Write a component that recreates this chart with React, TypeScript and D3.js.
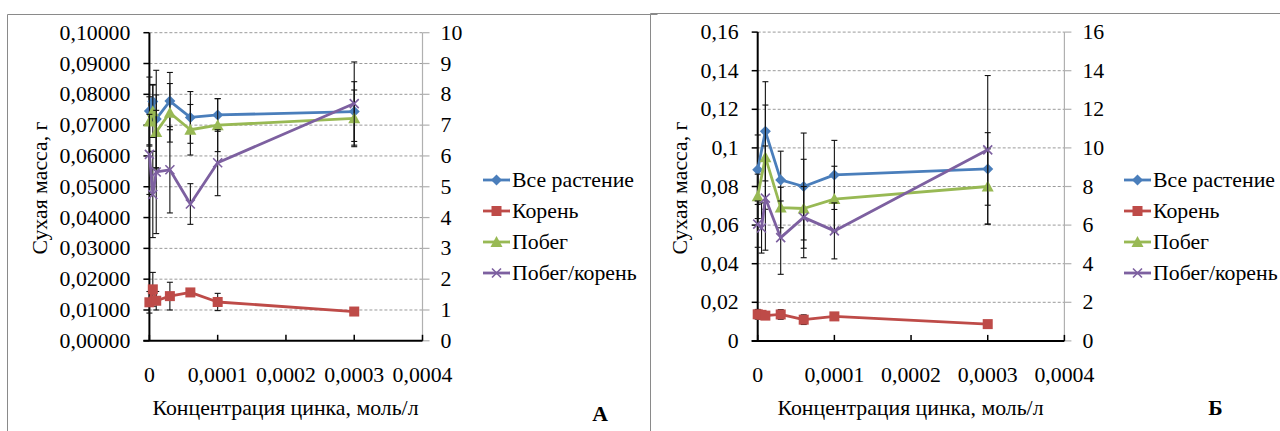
import React from 'react'
import * as d3 from 'd3'

const FONT = '"Liberation Serif", Tinos, "Times New Roman", Times, "DejaVu Serif", serif'
const FONT_SIZE = 20
const STRETCH = 1.09

const SERIES_NAMES = ['Все растение', 'Корень', 'Побег', 'Побег/корень']
const COLORS = ['#4a7ebb', '#be4b48', '#98b954', '#7d60a0']
const MARKERS = ['diamond', 'square', 'triangle', 'cross']

// zinc concentration, mol/l
const CONC = [0, 0.000005, 0.00001, 0.00003, 0.00006, 0.0001, 0.0003]
const X_TICKS = [0, 0.0001, 0.0002, 0.0003, 0.0004]

// panel A (dry mass, g; ratio on right axis)
const TOTAL_A = [0.0746, 0.0777, 0.0720, 0.0778, 0.0725, 0.0733, 0.0744]
const TOTAL_A_ERR = [0.011, 0.0055, 0.0158, 0.0093, 0.0084, 0.0053, 0.0097]
const ROOT_A = [0.0125, 0.0167, 0.0130, 0.0145, 0.0157, 0.0126, 0.0095]
const ROOT_A_ERR = [0.0035, 0.0055, 0.003, 0.0045, 0.001, 0.0028, 0.0005]
const SHOOT_A = [0.0712, 0.0745, 0.0678, 0.0740, 0.0685, 0.0700, 0.0722]
const SHOOT_A_ERR = [0.008, 0.0085, 0.012, 0.0095, 0.0082, 0.0086, 0.0092]
const RATIO_A = [6.05, 4.75, 5.48, 5.55, 4.44, 5.78, 7.7]
const RATIO_A_ERR = [1.3, 1.4, 2.0, 1.4, 0.66, 1.07, 1.35]

// panel Б
const TOTAL_B = [0.0887, null, 0.1086, 0.0834, 0.0800, 0.0860, 0.0891]
const TOTAL_B_ERR = [0.018, null, 0.0257, 0.0149, 0.0277, 0.0179, 0.0188]
const ROOT_B = [0.0138, 0.0135, 0.0131, 0.0137, 0.0110, 0.0127, 0.0087]
const ROOT_B_ERR = [0.0025, 0.002, 0.002, 0.0025, 0.0025, 0.0015, 0.0008]
const SHOOT_B = [0.0749, null, 0.0952, 0.0691, 0.0686, 0.0735, 0.0800]
const SHOOT_B_ERR = [0.0115, null, 0.027, 0.0105, 0.0255, 0.017, 0.0195]
const RATIO_B = [6.05, 5.85, 7.4, 5.35, 6.4, 5.7, 9.9]
const RATIO_B_ERR = [1.2, 1.3, 2.7, 1.9, 1.6, 1.45, 3.85]

const comma = (s: string) => s.replace('.', ',')

type Series = { values: (number | null)[], err: (number | null)[], right?: boolean }

const panelA = {
  x0: 149.4, x1: 422.5, yTop: 32.7, yBot: 340.8,
  yMax: 0.1, yStep: 0.01, yFmt: (v: number) => comma(d3.format('.5f')(v)),
  y2Max: 10, y2Step: 1,
  series: [
    { values: TOTAL_A, err: TOTAL_A_ERR },
    { values: ROOT_A, err: ROOT_A_ERR },
    { values: SHOOT_A, err: SHOOT_A_ERR },
    { values: RATIO_A, err: RATIO_A_ERR, right: true },
  ] as Series[],
  legendX: 483, legendTextX: 512,
  frameX: 7.5, frameY: 14.5,
  yTitleX: 47,
  xTitleX: 285.5,
  letter: 'А', letterX: 600, letterY: 420.5,
}

const panelB = {
  x0: 757.7, x1: 1064.4, yTop: 32.1, yBot: 340.9,
  yMax: 0.16, yStep: 0.02, yFmt: (v: number) => comma(d3.format('.2~f')(v)),
  y2Max: 16, y2Step: 2,
  series: [
    { values: TOTAL_B, err: TOTAL_B_ERR },
    { values: ROOT_B, err: ROOT_B_ERR },
    { values: SHOOT_B, err: SHOOT_B_ERR },
    { values: RATIO_B, err: RATIO_B_ERR, right: true },
  ] as Series[],
  legendX: 1124, legendTextX: 1153,
  frameX: 650.5, frameY: 13.5,
  yTitleX: 687,
  xTitleX: 910.5,
  letter: 'Б', letterX: 1215.5, letterY: 415,
}

// text stretched horizontally like the original scan
function T({ x, y, anchor = 'start', rotate = 0, bold = false, children }: any) {
  return (
    <text
      transform={`translate(${x},${y}) rotate(${rotate}) scale(${STRETCH},1)`}
      textAnchor={anchor}
      style={{ fontFamily: FONT, fontSize: FONT_SIZE, fontWeight: bold ? 700 : 400 }}
      fill="#000"
    >
      {children}
    </text>
  )
}

function Marker({ kind, x, y, color }: any) {
  if (kind === 'diamond')
    return <path d={`M${x},${y - 5.5}L${x + 5.5},${y}L${x},${y + 5.5}L${x - 5.5},${y}Z`} fill={color} />
  if (kind === 'square')
    return <rect x={x - 5} y={y - 5} width={10} height={10} fill={color} />
  if (kind === 'triangle')
    return <path d={`M${x},${y - 6}L${x + 6},${y + 5}L${x - 6},${y + 5}Z`} fill={color} />
  return (
    <path d={`M${x - 4.5},${y - 4.5}L${x + 4.5},${y + 4.5}M${x + 4.5},${y - 4.5}L${x - 4.5},${y + 4.5}`}
      stroke={color} strokeWidth={1.6} fill="none" />
  )
}

function Panel({ p }: any) {
  const x = d3.scaleLinear().domain([0, 0.0004]).range([p.x0, p.x1])
  const y = d3.scaleLinear().domain([0, p.yMax]).range([p.yBot, p.yTop])
  const y2 = d3.scaleLinear().domain([0, p.y2Max]).range([p.yBot, p.yTop])
  const yTicks = d3.range(0, Math.round(p.yMax / p.yStep) + 1).map((i) => +(i * p.yStep).toFixed(4))
  const y2Ticks = d3.range(0, Math.round(p.y2Max / p.y2Step) + 1).map((i) => i * p.y2Step)
  const xFmt = (v: number) => comma(d3.format('.4~f')(v))

  const legendYs = [180, 211, 242, 273]

  return (
    <g>
      {/* frame of the figure panel */}
      <path d={`M${p.frameX},440V${p.frameY}H${p.frameX + 650}`} stroke="#8a8a8a" fill="none" strokeWidth={1} />

      {/* gridlines */}
      {yTicks.slice(1).map((t) => (
        <line key={'g' + t} x1={p.x0} x2={p.x1} y1={y(t)} y2={y(t)}
          stroke="#9a9a9a" strokeWidth={1} strokeDasharray="3,2" />
      ))}

      {/* secondary axis (gray) */}
      <line x1={p.x1} x2={p.x1} y1={p.yTop} y2={p.yBot} stroke="#b0b0b0" strokeWidth={1.2} />
      {y2Ticks.map((t) => (
        <g key={'r' + t}>
          <line x1={p.x1} x2={p.x1 + 7} y1={y2(t)} y2={y2(t)} stroke="#b0b0b0" strokeWidth={1.2} />
          <T x={p.x1 + 18} y={y2(t) + 7}>{String(t)}</T>
        </g>
      ))}

      {/* primary y axis */}
      <line x1={p.x0} x2={p.x0} y1={p.yTop} y2={p.yBot} stroke="#000" strokeWidth={2} />
      {yTicks.map((t) => (
        <g key={'l' + t}>
          <line x1={p.x0 - 6} x2={p.x0} y1={y(t)} y2={y(t)} stroke="#000" strokeWidth={1.5} />
          <T x={p.x0 - 19} y={y(t) + 7} anchor="end">{p.yFmt(t)}</T>
        </g>
      ))}

      {/* x axis */}
      <line x1={p.x0 - 6} x2={p.x1} y1={p.yBot} y2={p.yBot} stroke="#000" strokeWidth={2} />
      {X_TICKS.map((t) => (
        <g key={'x' + t}>
          <line x1={x(t)} x2={x(t)} y1={p.yBot} y2={p.yBot - 6} stroke="#000" strokeWidth={1.5} />
          <T x={x(t)} y={382} anchor="middle">{xFmt(t)}</T>
        </g>
      ))}

      {/* series: error bars, line, markers */}
      {p.series.map((s: Series, si: number) => {
        const ys = s.right ? y2 : y
        const pts = CONC.map((c, i) => ({ c, v: s.values[i], e: s.err[i] })).filter((d) => d.v != null)
        const line = d3.line<any>().x((d) => x(d.c)).y((d) => ys(d.v))
        return (
          <g key={'s' + si}>
            {pts.map((d, i) => {
              const px = x(d.c)
              const top = ys(d.v + (d.e || 0))
              const bot = ys(d.v - (d.e || 0))
              return (
                <g key={i} stroke="#111" strokeWidth={1.1}>
                  <line x1={px} x2={px} y1={top} y2={bot} />
                  <line x1={px - 3} x2={px + 3} y1={top} y2={top} />
                  <line x1={px - 3} x2={px + 3} y1={bot} y2={bot} />
                </g>
              )
            })}
            <path d={line(pts) || ''} fill="none" stroke={COLORS[si]} strokeWidth={2.8} strokeLinejoin="round" />
            {pts.map((d, i) => (
              <Marker key={i} kind={MARKERS[si]} x={x(d.c)} y={ys(d.v as number)} color={COLORS[si]} />
            ))}
          </g>
        )
      })}

      {/* legend */}
      {SERIES_NAMES.map((name, i) => (
        <g key={name}>
          <line x1={p.legendX} x2={p.legendX + 27} y1={legendYs[i]} y2={legendYs[i]} stroke={COLORS[i]} strokeWidth={2.8} />
          <Marker kind={MARKERS[i]} x={p.legendX + 13.5} y={legendYs[i]} color={COLORS[i]} />
          <T x={p.legendTextX} y={legendYs[i] + 7}>{name}</T>
        </g>
      ))}

      {/* axis titles */}
      <T x={p.yTitleX} y={188} anchor="middle" rotate={-90}>Сухая масса,  г</T>
      <T x={p.xTitleX} y={415} anchor="middle">Концентрация  цинка,  моль/л</T>
      <T x={p.letterX} y={p.letterY} anchor="middle" bold>{p.letter}</T>
    </g>
  )
}

export default function App() {
  return (
    <svg width={1280} height={431} style={{ position: 'absolute', left: 0, top: 0, background: '#fff' }}>
      <rect width={1280} height={431} fill="#fff" />
      <Panel p={panelA} />
      <Panel p={panelB} />
    </svg>
  )
}
